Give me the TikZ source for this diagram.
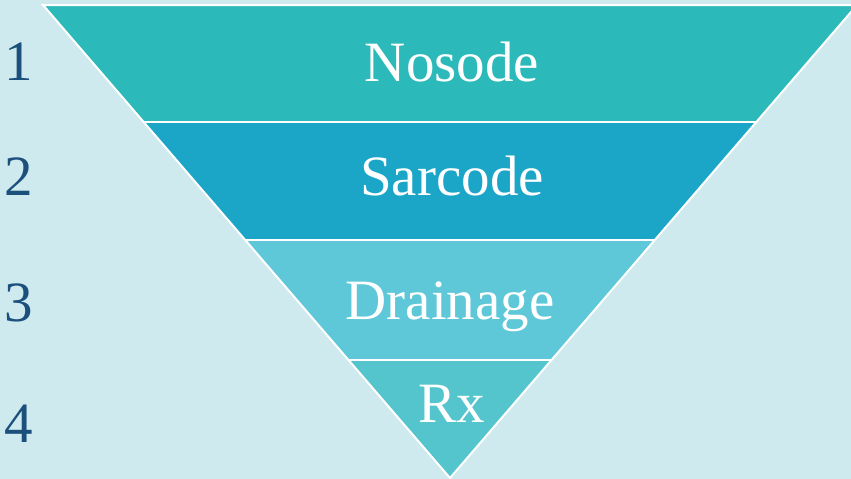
\documentclass[tikz,border=0pt]{standalone}
\usepackage{fontspec}
\setmainfont{Liberation Serif}
\definecolor{bg}{HTML}{CEEAEE}
\definecolor{bandA}{HTML}{2CB9BA}
\definecolor{bandB}{HTML}{1BA6C8}
\definecolor{bandC}{HTML}{5EC8D8}
\definecolor{bandD}{HTML}{55C5CD}
\definecolor{numc}{HTML}{1B4F7C}
\begin{document}
\begin{tikzpicture}[x=1pt,y=-1pt,
  label/.style={text=white,font=\fontsize{57}{60}\selectfont,anchor=base,inner sep=0pt},
  num/.style={text=numc,font=\fontsize{57}{60}\selectfont,anchor=base,inner sep=0pt},
  sep/.style={draw=white,line width=2pt}]
\useasboundingbox (0,0) rectangle (851,479);
\clip (0,0) rectangle (851,479);
\fill[bg] (0,0) rectangle (851,479);
% corners of bands: left x = 43 + 407*(y-5)/473, right x = 857 - 407*(y-5)/473
\coordinate (tl) at (43,5);
\coordinate (tr) at (857,5);
\coordinate (l1) at (143.7,122);
\coordinate (r1) at (756.3,122);
\coordinate (l2) at (245.2,240);
\coordinate (r2) at (654.8,240);
\coordinate (l3) at (348.5,360);
\coordinate (r3) at (551.5,360);
\coordinate (apex) at (450,478);
\fill[bandA] (tl) -- (tr) -- (r1) -- (l1) -- cycle;
\fill[bandB] (l1) -- (r1) -- (r2) -- (l2) -- cycle;
\fill[bandC] (l2) -- (r2) -- (r3) -- (l3) -- cycle;
\fill[bandD] (l3) -- (r3) -- (apex) -- cycle;
\draw[sep] (l1) -- (r1);
\draw[sep] (l2) -- (r2);
\draw[sep] (l3) -- (r3);
\draw[sep,line join=miter] (tr) -- (tl) -- (apex) -- cycle;
\node[label] (nosode) at (452,81) {Nosode};
\node[label] (sarcode) at (452,195) {Sarcode};
\node[label] (drainage) at (450,319) {Drainage};
\node[label] (rx) at (452,422) {Rx};
\node[num] (n1) at (19,80) {1};
\node[num] (n2) at (19,195) {2};
\node[num] (n3) at (19,321) {3};
\node[num] (n4) at (19,442) {4};
\end{tikzpicture}
\end{document}
